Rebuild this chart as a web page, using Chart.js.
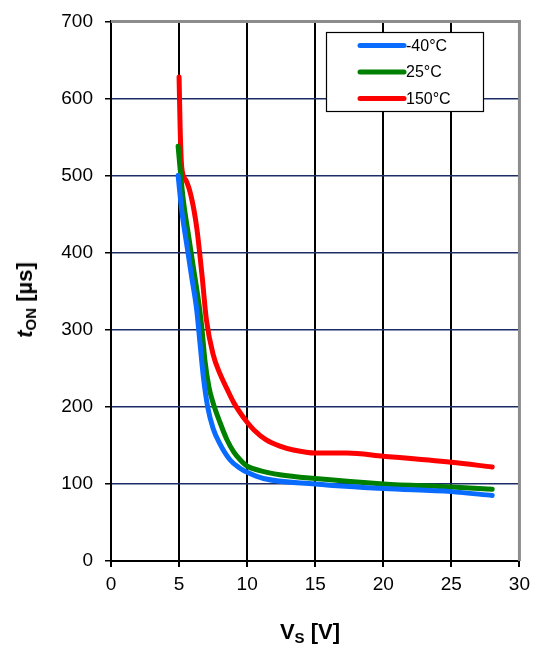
<!DOCTYPE html>
<html>
<head>
<meta charset="utf-8">
<script src="https://cdn.jsdelivr.net/npm/chart.js@4"></script>
<style>
  body { margin: 0; background: #fff; }
  #wrap { position: relative; width: 534px; height: 647px; overflow: hidden; font-family: "Liberation Sans", Arial, sans-serif; }
  #chart { position: absolute; left: 0; top: -2px; }
  .axisTitle { position: absolute; font-weight: bold; font-size: 22px; color: #000; white-space: nowrap; }
  .axisTitle sub { font-size: 15px; vertical-align: -4px; line-height: 0; }
  #xTitle { left: 310px; top: 632px; transform: translate(-50%, -50%); }
  #yTitle { left: 25px; top: 300px; transform: translate(-50%, -50%) rotate(-90deg); }
</style>
</head>
<body>
<div id="wrap">
  <canvas id="chart" width="536" height="649"></canvas>
  <div class="axisTitle" id="xTitle">V<sub>S</sub> [V]</div>
  <div class="axisTitle" id="yTitle"><i>t</i><sub>ON</sub> [µs]</div>
</div>
<script>
const seriesLabels = ["-40°C", "25°C", "150°C"];
const seriesColors = ["#0a6cff", "#008000", "#ff0000"];

const vsCold = [4.93, 5.2, 5.56, 5.93, 6.3, 6.54, 6.79, 7.1, 7.5, 8.0, 8.75, 9.5, 10, 11.2, 15, 20, 25, 28];
const tonCold = [500, 454, 411, 368, 325, 282, 238, 200, 172, 152, 131, 120, 115, 107, 100, 94, 90, 85];

const vsRoom = [4.93, 5.07, 5.32, 5.68, 6.05, 6.42, 6.67, 6.9, 7.2, 7.5, 8.0, 8.5, 9.0, 9.5, 10, 11, 12.4, 15, 20, 25, 28];
const tonRoom = [538, 510, 467, 424, 381, 338, 303, 260, 225, 205, 180, 158, 142, 131, 123, 117, 112, 107, 100, 96, 93];

const vsHot = [5.0, 5.08, 5.2, 5.5, 5.9, 6.3, 6.7, 7.0, 7.5, 8.0, 8.5, 9.0, 9.5, 10, 10.5, 11.4, 12.4, 13.4, 15, 17.3, 20, 25, 28];
const tonHot = [628, 560, 510, 494, 472, 432, 368, 314, 268, 243, 224, 206, 192, 180, 170, 157, 149, 144, 140, 140, 136, 128, 122];

const xTicks = [0, 5, 10, 15, 20, 25, 30];
const yTicks = [0, 100, 200, 300, 400, 500, 600, 700];

const toPoints = (xs, ys) => xs.map((x, i) => ({ x: x, y: ys[i] }));
const allSeries = [toPoints(vsCold, tonCold), toPoints(vsRoom, tonRoom), toPoints(vsHot, tonHot)];

// grey frame on top and right, like the original plot
const frame = {
  id: "frame",
  beforeDatasetsDraw(chart) {
    const { ctx, chartArea: a } = chart;
    ctx.save();
    ctx.strokeStyle = "#8c8c8c";
    ctx.lineWidth = 3;
    ctx.beginPath();
    ctx.moveTo(a.left, a.top);
    ctx.lineTo(a.right, a.top);
    ctx.lineTo(a.right, a.bottom);
    ctx.stroke();
    ctx.restore();
  },
};

// boxed legend inside the plot area (canvas is shifted up 2px)
const boxLegend = {
  id: "boxLegend",
  afterDatasetsDraw(chart) {
    const ctx = chart.ctx;
    ctx.save();
    ctx.fillStyle = "#fff";
    ctx.fillRect(326.5, 34.5, 157, 79);
    ctx.strokeStyle = "#000";
    ctx.lineWidth = 1.2;
    ctx.strokeRect(326.5, 34.5, 157, 79);
    ctx.font = "16px 'Liberation Sans', Arial, sans-serif";
    ctx.textBaseline = "middle";
    chart.data.datasets.forEach((ds, i) => {
      const y = 47.5 + i * 26.5;
      ctx.strokeStyle = ds.borderColor;
      ctx.lineWidth = 5;
      ctx.lineCap = "round";
      ctx.beginPath();
      ctx.moveTo(360, y);
      ctx.lineTo(404, y);
      ctx.stroke();
      ctx.fillStyle = "#000";
      ctx.fillText(ds.label, 406, y + 1);
    });
    ctx.restore();
  },
};

new Chart(document.getElementById("chart"), {
  type: "line",
  data: {
    datasets: allSeries.map((pts, i) => ({
      label: seriesLabels[i],
      data: pts,
      borderColor: seriesColors[i],
      backgroundColor: seriesColors[i],
      borderWidth: 5,
      borderCapStyle: "round",
      borderJoinStyle: "round",
      pointRadius: 0,
      cubicInterpolationMode: "monotone",
      fill: false,
    })),
  },
  options: {
    responsive: false,
    animation: false,
    layout: { padding: { top: 18, right: 13, left: 0, bottom: 0 } },
    plugins: { legend: { display: false }, tooltip: { enabled: false } },
    scales: {
      x: {
        type: "linear",
        min: 0,
        max: 30,
        afterBuildTicks: (s) => { s.ticks = xTicks.map((v) => ({ value: v })); },
        afterFit: (s) => { s.height = 86; },
        grid: { color: "#000", lineWidth: 2, tickLength: 6, tickColor: "#000" },
        border: { color: "#000", width: 2 },
        ticks: { color: "#000", padding: 6, font: { family: "'Liberation Sans', Arial, sans-serif", size: 19 } },
      },
      y: {
        type: "linear",
        min: 0,
        max: 700,
        afterBuildTicks: (s) => { s.ticks = yTicks.map((v) => ({ value: v })); },
        afterFit: (s) => { s.width = 111; },
        grid: { color: "#1c2c66", lineWidth: 1.5, tickLength: 6, tickColor: "#000" },
        border: { color: "#000", width: 2 },
        ticks: { color: "#000", padding: 12, font: { family: "'Liberation Sans', Arial, sans-serif", size: 19 } },
      },
    },
  },
  plugins: [frame, boxLegend],
});
</script>
</body>
</html>
